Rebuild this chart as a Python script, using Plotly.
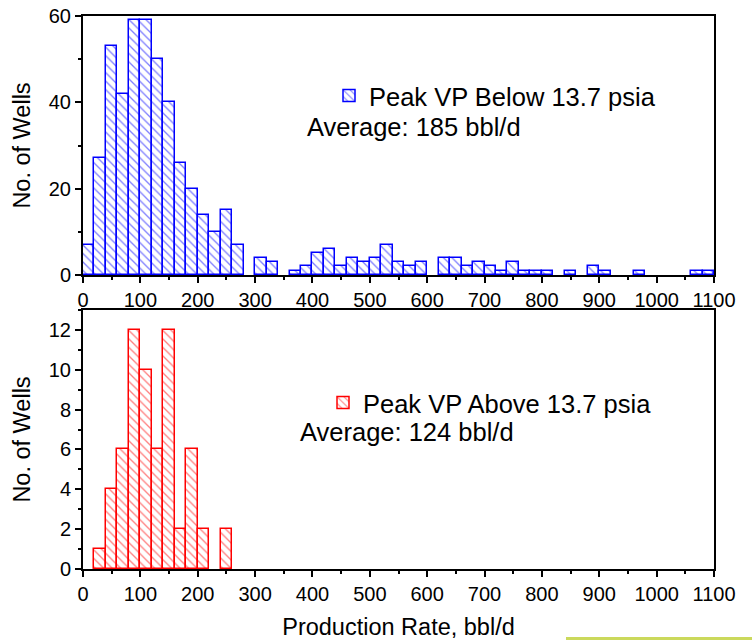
import numpy as np
import plotly.graph_objects as go
from plotly.subplots import make_subplots

# Well counts per 20 bbl/d production-rate bin, starting at 0 bbl/d
bin_width = 20
below_counts = [7, 27, 53, 42, 59, 59, 50, 40, 26, 20,
                14, 10, 15, 7, 0, 4, 3, 0, 1, 2,
                5, 6, 2, 4, 3, 4, 7, 3, 2, 3,
                0, 4, 4, 2, 3, 2, 1, 3, 1, 1,
                1, 0, 1, 0, 2, 1, 0, 0, 1, 0,
                0, 0, 0, 1, 1]
above_counts = [0, 1, 4, 6, 12, 10, 6, 12, 2, 6, 2, 0, 2]

below_label = "Peak VP Below 13.7 psia"
above_label = "Peak VP Above 13.7 psia"
below_avg = "Average: 185 bbl/d"
above_avg = "Average: 124 bbl/d"

x_tickvals = list(range(0, 1101, 100))

FONT = "Liberation Sans, Arial, Helvetica, sans-serif"

# plot-area geometry (px) used for paper-coordinate placement
W, H = 752, 640
ML, MR, MT, MB = 83, 38, 16, 71
PW, PH = W - ML - MR, H - MT - MB


def px_x(px):
    return (px - ML) / PW


def px_y(py):
    return (H - MB - py) / PH


def hist_bars(counts, color, name, legend):
    counts = np.asarray(counts)
    left = np.arange(len(counts)) * bin_width
    keep = counts > 0
    return go.Bar(
        x=left[keep] + bin_width / 2,
        y=counts[keep],
        width=bin_width,
        name=name,
        legend=legend,
        showlegend=True,
        marker=dict(
            color="white",
            line=dict(color=color, width=1.5),
            pattern=dict(shape="\\", fgcolor=color, bgcolor="white",
                         size=6, solidity=0.22),
        ),
    )


fig = make_subplots(rows=2, cols=1)
fig.add_trace(hist_bars(below_counts, "#0000ff", below_label, "legend"), row=1, col=1)
fig.add_trace(hist_bars(above_counts, "#ff0000", above_label, "legend2"), row=2, col=1)

axis_common = dict(
    showline=True, mirror=True, linecolor="black", linewidth=2,
    showgrid=False, zeroline=False, automargin=False,
    ticks="outside", ticklen=6, tickwidth=1.5, tickcolor="black",
    tickfont=dict(family=FONT, size=20, color="black"),
)

x_common = dict(axis_common, range=[0, 1100], tickmode="array", tickvals=x_tickvals,
                minor=dict(ticks="outside", ticklen=3, tickwidth=1.5,
                           tickcolor="black", dtick=50, tick0=0))

# small inward ticks along the top and right frame edges
frame_ticks = dict(showline=False, showgrid=False, zeroline=False, automargin=False,
                   showticklabels=False, ticks="inside", ticklen=3, tickwidth=1.5,
                   tickcolor="black", tick0=0)

top_dom = [px_y(275), 1]
bot_dom = [0, px_y(310)]

fig.update_layout(
    xaxis=dict(x_common, domain=[0, 1], anchor="y"),
    xaxis2=dict(x_common, domain=[0, 1], anchor="y2",
                title=dict(text="Production Rate, bbl/d",
                           font=dict(family=FONT, size=23.5, color="black"),
                           standoff=18)),
    yaxis=dict(axis_common, domain=top_dom, range=[0, 60], dtick=20, tick0=0,
               minor=dict(ticks="outside", ticklen=3, tickwidth=1.5,
                          tickcolor="black", dtick=10, tick0=0),
               title=dict(text="No. of Wells",
                          font=dict(family=FONT, size=23.5, color="black"),
                          standoff=12)),
    yaxis2=dict(axis_common, domain=bot_dom, range=[0, 13], dtick=2, tick0=0,
                minor=dict(ticks="outside", ticklen=3, tickwidth=1.5,
                           tickcolor="black", dtick=1, tick0=0),
                title=dict(text="No. of Wells",
                           font=dict(family=FONT, size=23.5, color="black"),
                           standoff=12)),
    xaxis3=dict(frame_ticks, overlaying="x", side="top", anchor="y",
                range=[0, 1100], dtick=50),
    yaxis3=dict(frame_ticks, overlaying="y", side="right", anchor="x",
                range=[0, 60], dtick=10, domain=top_dom),
    xaxis4=dict(frame_ticks, overlaying="x2", side="top", anchor="y2",
                range=[0, 1100], dtick=50),
    yaxis4=dict(frame_ticks, overlaying="y2", side="right", anchor="x2",
                range=[0, 13], dtick=1, domain=bot_dom),
    bargap=0,
    width=W, height=H,
    margin=dict(l=ML, r=MR, t=MT, b=MB, autoexpand=False),
    plot_bgcolor="white", paper_bgcolor="white",
    font=dict(family=FONT, color="black"),
    legend=dict(x=px_x(329), xanchor="left", y=px_y(96), yanchor="middle",
                bgcolor="rgba(0,0,0,0)", font=dict(family=FONT, size=25.5)),
    legend2=dict(x=px_x(323), xanchor="left", y=px_y(403), yanchor="middle",
                 bgcolor="rgba(0,0,0,0)", font=dict(family=FONT, size=25.5)),
    annotations=[
        dict(text=below_avg, xref="paper", yref="paper", x=px_x(305), y=px_y(127),
             xanchor="left", yanchor="middle", showarrow=False,
             font=dict(family=FONT, size=25.5, color="black")),
        dict(text=above_avg, xref="paper", yref="paper", x=px_x(298), y=px_y(432),
             xanchor="left", yanchor="middle", showarrow=False,
             font=dict(family=FONT, size=25.5, color="black")),
    ],
    shapes=[
        dict(type="rect", xref="paper", yref="paper",
             x0=px_x(566), x1=px_x(752), y0=px_y(640), y1=px_y(637),
             fillcolor="#cbd95c", line=dict(width=0)),
    ],
)

fig.write_html("out.html")
